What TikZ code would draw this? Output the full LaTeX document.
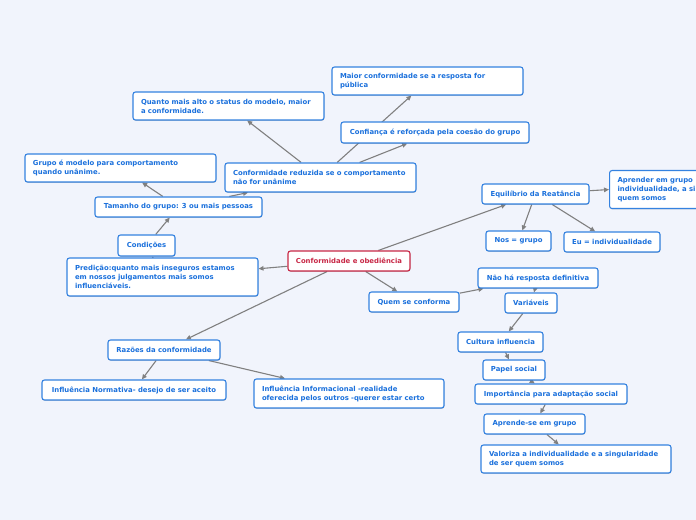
\documentclass[tikz,border=0pt]{standalone}
\usepackage{fontspec}
\newfontfamily\vf{DejaVu Sans}
\usetikzlibrary{arrows.meta,shadows}
\definecolor{bgc}{RGB}{241,244,252}
\definecolor{bblue}{RGB}{52,130,224}
\definecolor{tblue}{RGB}{26,112,220}
\definecolor{rred}{RGB}{200,40,70}
\definecolor{lgrey}{RGB}{128,128,128}
\pgfdeclarelayer{bg}
\pgfdeclarelayer{edges}
\pgfsetlayers{bg,edges,main}
\tikzset{
  box/.style={draw=bblue, line width=1.1bp, rounded corners=2.5bp, fill=white,
    text=tblue, font=\vf\bfseries\fontsize{6.9}{9}\selectfont, inner xsep=8bp, inner ysep=2bp,
    drop shadow={shadow xshift=0.4bp, shadow yshift=-0.9bp, fill=black, opacity=0.18}},
  multi/.style={box, align=left},
  rootbox/.style={box, draw=rred, text=rred},
  conn/.style={draw=lgrey, line width=1.1bp, -{Triangle[length=5bp,width=4.5bp]}}
}
\begin{document}
\begin{tikzpicture}[x=1bp,y=-1bp]
\begin{pgfonlayer}{bg}
\fill[bgc] (0,0) rectangle (696,520);
\end{pgfonlayer}
\useasboundingbox (0,0) rectangle (696,520);

\node[multi, minimum width=191bp, minimum height=28bp, text width=175bp] (maior) at (427.5,81) {Maior conformidade se a resposta for\\pública};
\node[multi, minimum width=191bp, minimum height=28bp, text width=175bp] (quanto) at (228.5,106) {Quanto mais alto o status do modelo, maior\\a conformidade.};
\node[box, minimum width=188bp, minimum height=21bp] (confianca) at (435,132.5) {Confiança é reforçada pela coesão do grupo};
\node[multi, minimum width=191bp, minimum height=28bp, text width=175bp] (grupo) at (120.5,168) {Grupo é modelo para comportamento\\quando unânime.};
\node[multi, minimum width=191bp, minimum height=29bp, text width=175bp] (reduzida) at (320.5,177.5) {Conformidade reduzida se o comportamento\\não for unânime};
\node[box, minimum width=167bp, minimum height=20bp] (tamanho) at (178.5,207) {Tamanho do grupo: 3 ou mais pessoas};
\node[box, minimum width=57bp, minimum height=21bp, inner xsep=2bp] (condicoes) at (146.5,245.5) {Condições};
\node[multi, minimum width=191bp, minimum height=38bp, text width=175bp] (predicao) at (162.5,277) {Predição:quanto mais inseguros estamos\\em nossos julgamentos mais somos\\influenciáveis.};
\node[rootbox, minimum width=122bp, minimum height=20bp, inner xsep=2bp] (obed) at (349,261) {Conformidade e obediência};
\node[box, minimum width=107bp, minimum height=20bp, inner xsep=2bp] (equil) at (535.5,194) {Equilíbrio da Reatância};
\node[multi, minimum width=191bp, minimum height=38bp, text width=175bp, anchor=north west] (aprender) at (609,170) {Aprender em grupo\\individualidade, a singularidade de ser\\quem somos};
\node[box, minimum width=65bp, minimum height=20bp, inner xsep=2bp] (nos) at (518.5,241) {Nos = grupo};
\node[box, minimum width=96bp, minimum height=20bp, inner xsep=2bp] (eu) at (612,242) {Eu = individualidade};
\node[box, minimum width=90bp, minimum height=20bp, inner xsep=2bp] (quem) at (414,302) {Quem se conforma};
\node[box, minimum width=120bp, minimum height=20bp, inner xsep=2bp] (naoha) at (538,278) {Não há resposta definitiva};
\node[box, minimum width=52bp, minimum height=20bp, inner xsep=2bp] (variaveis) at (531,303) {Variáveis};
\node[box, minimum width=85bp, minimum height=20bp, inner xsep=2bp] (cultura) at (500.5,342) {Cultura influencia};
\node[box, minimum width=62bp, minimum height=20bp, inner xsep=2bp] (papel) at (514,370) {Papel social};
\node[box, minimum width=152bp, minimum height=20bp, inner xsep=2bp] (importancia) at (551,394) {Importância para adaptação social};
\node[box, minimum width=101bp, minimum height=20bp, inner xsep=2bp] (aprende) at (534.5,424) {Aprende-se em grupo};
\node[multi, minimum width=190bp, minimum height=28bp, text width=174bp] (valoriza) at (576,459) {Valoriza a individualidade e a singularidade\\de ser quem somos};
\node[box, minimum width=112bp, minimum height=20bp, inner xsep=2bp] (razoes) at (164,350) {Razões da conformidade};
\node[box, minimum width=184bp, minimum height=20bp, inner xsep=2bp] (normativa) at (134,390) {Influência Normativa- desejo de ser aceito};
\node[multi, minimum width=190bp, minimum height=29bp, text width=174bp] (informacional) at (349,393.5) {Influência Informacional -realidade\\oferecida pelos outros -querer estar certo};

\begin{pgfonlayer}{edges}
\draw[conn] (obed) -- (predicao);
\draw[conn] (obed) -- (equil);
\draw[conn] (obed) -- (quem);
\draw[conn] (obed) -- (razoes);
\draw[conn] (predicao) -- (condicoes);
\draw[conn] (condicoes) -- (tamanho);
\draw[conn] (tamanho) -- (grupo);
\draw[conn] (tamanho) -- (reduzida);
\draw[conn] (reduzida) -- (quanto);
\draw[conn] (reduzida) -- (maior);
\draw[conn] (reduzida.north east) ++(-57,0) coordinate (rc) (rc) -- (confianca);
\draw[conn] (equil) -- (aprender.west);
\draw[conn] (equil) -- (nos);
\draw[conn] (equil) -- (eu);
\draw[conn] (quem) -- (naoha);
\draw[conn] (naoha) -- (variaveis);
\draw[conn] (variaveis) -- (cultura);
\draw[conn] (cultura) -- (papel);
\draw[conn] (papel) -- (importancia);
\draw[conn] (importancia) -- (aprende);
\draw[conn] (aprende) -- (valoriza);
\draw[conn] (razoes) -- (normativa);
\draw[conn] (razoes) -- (informacional);
\end{pgfonlayer}
\end{tikzpicture}
\end{document}
